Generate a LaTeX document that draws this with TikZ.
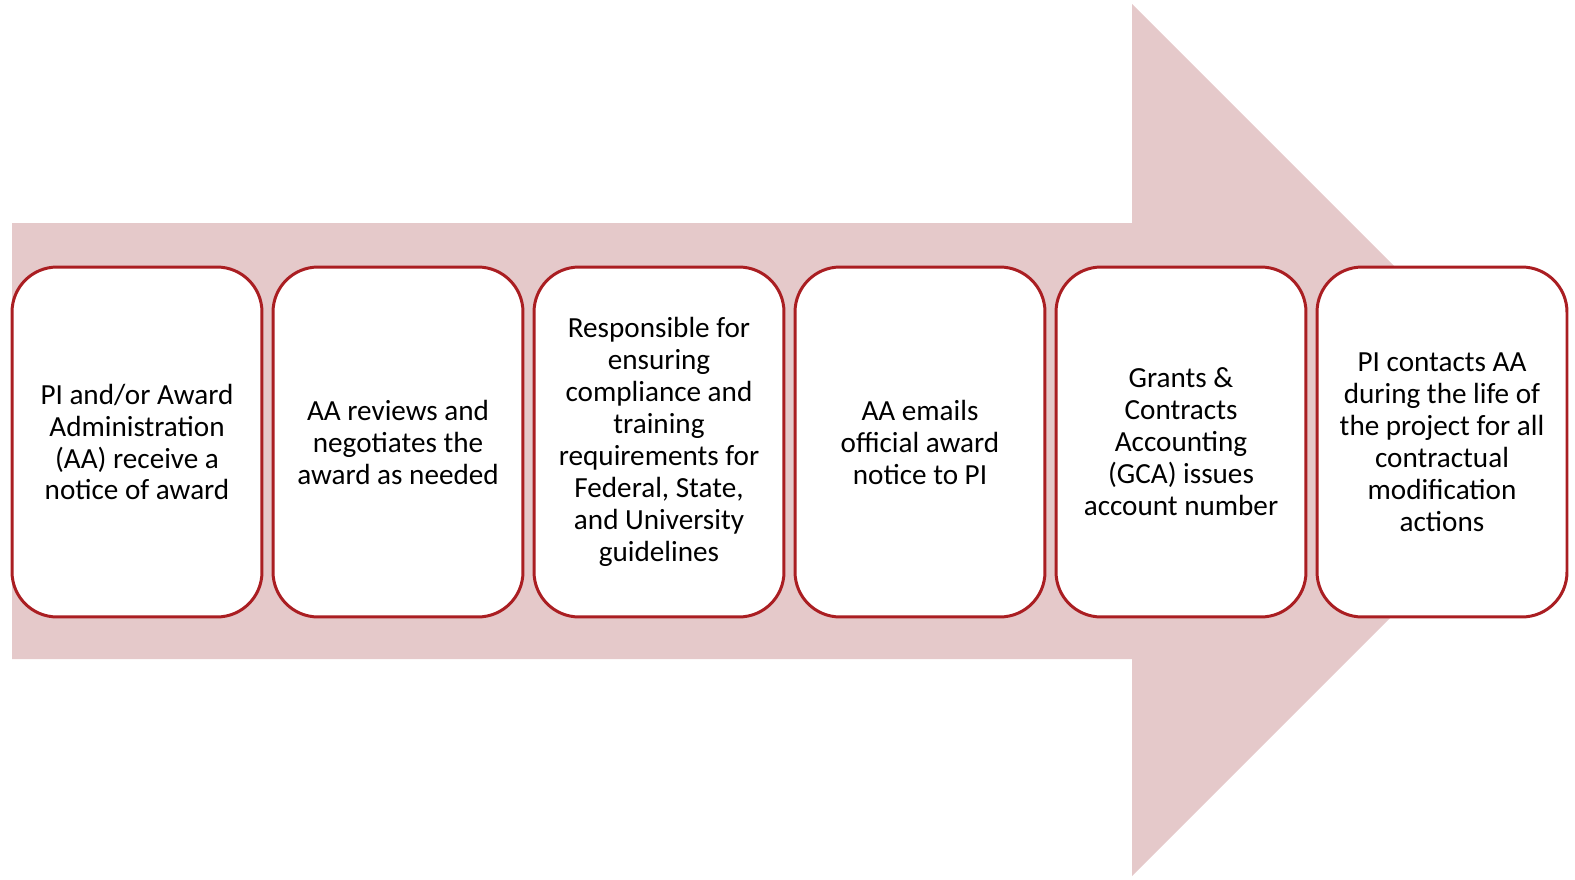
\documentclass[tikz,border=0pt]{standalone}
\usepackage{fontspec}
\setmainfont{Carlito}
\usetikzlibrary{positioning}
\definecolor{arrowpink}{RGB}{229,201,202}
\definecolor{boxred}{RGB}{170,30,34}
\tikzset{font=\fontsize{16.6}{18.2}\selectfont}

\begin{document}
\begin{tikzpicture}[x=0.02cm, y=-0.02cm]
	\useasboundingbox (0,0) rectangle (1575,879);
	% big arrow behind the boxes
	\fill[arrowpink] (12,223) -- (1132,223) -- (1132,4) -- (1568,440)
		-- (1132,876) -- (1132,659) -- (12,659) -- cycle;
	\begin{scope}
		\tikzstyle{every node}=[align=center, inner sep=1pt, draw=boxred, line width=1.7pt, fill=white,
			rounded corners=0.9cm, minimum width=5cm, minimum height=7cm]
		\node (notice) at (137, 442) {PI and/or Award\\ Administration\\ (AA) receive a\\ notice of award};
		\node (negotiate) at (398, 442) {AA reviews and\\ negotiates the\\ award as needed};
		\node (comply) at (659, 442) {Responsible for\\ ensuring\\ compliance and\\ training\\ requirements for\\ Federal, State,\\ and University\\ guidelines};
		\node (email) at (920, 442) {AA emails\\ official award\\ notice to PI};
		\node (gca) at (1181, 442) {Grants \&\\ Contracts\\ Accounting\\ (GCA) issues\\ account number};
		\node (modify) at (1442, 442) {PI contacts AA\\ during the life of\\ the project for all\\ contractual\\ modification\\ actions};
	\end{scope}
\end{tikzpicture}
\end{document}
